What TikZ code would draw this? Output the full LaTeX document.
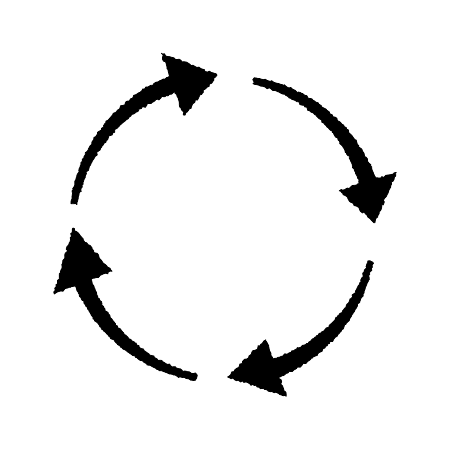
\documentclass[tikz,border=0pt]{standalone}
\usetikzlibrary{decorations.pathmorphing}
\begin{document}
\begin{tikzpicture}[x=1pt,y=1pt]
\useasboundingbox (0,0) rectangle (450,450);
\pgfmathsetseed{7}
\tikzset{chalk/.style={fill=black, draw=black, line width=0.8pt, line join=round,
  decorate, decoration={random steps,segment length=1.8pt,amplitude=1.1pt}}}
\newcommand\chalkarrow[7]{%
  \fill[chalk] plot[domain=#1:#2,samples=50] (\x:{#4+(#5+(#6-#5)*(#1-\x)/(#1-#2))/2})
    -- (#2:{#4+#7}) -- (#3:#4) -- (#2:{#4-#7})
    -- plot[domain=#2:#1,samples=50] (\x:{#4-(#5+(#6-#5)*(#1-\x)/(#1-#2))/2}) -- cycle;
}
\begin{scope}[shift={(225,222)}]
  \chalkarrow{171}{110}{93}{153}{6}{17}{33}
  \chalkarrow{79}{18}{2}{150}{6}{17}{30}
  \chalkarrow{-13}{-70}{-89}{149}{5}{19}{30}
  \chalkarrow{-101}{-159}{-180}{152}{6}{17}{31}
\end{scope}
\end{tikzpicture}
\end{document}
